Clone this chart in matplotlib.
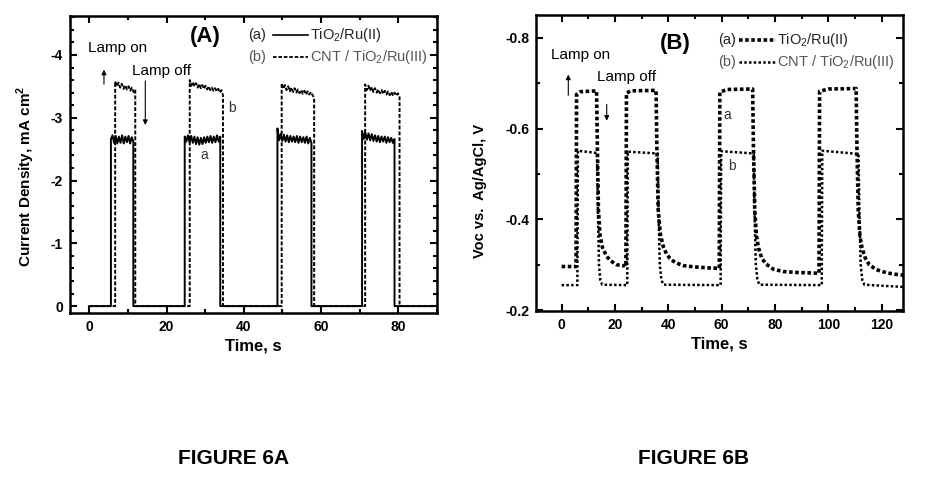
import numpy as np
import matplotlib
matplotlib.use("Agg")
import matplotlib.pyplot as plt
from matplotlib.ticker import MultipleLocator

plt.rcParams['font.family'] = ['Liberation Sans', 'DejaVu Sans']
plt.rcParams['mathtext.fontset'] = 'custom'
plt.rcParams['mathtext.rm'] = 'Liberation Sans'
plt.rcParams['mathtext.bf'] = 'Liberation Sans:bold'
plt.rcParams['axes.unicode_minus'] = False

# ---- Figure 6A: photocurrent, mA cm-2 ----
# (a) TiO2/Ru(II): lamp on/off times and plateau readings
a_on = [5.6, 24.7, 48.7, 70.6]
a_off = [11.4, 33.9, 57.5, 79.0]
a_plateaus = [
    [-2.66, -2.72, -2.60, -2.71, -2.59, -2.70, -2.60, -2.72, -2.59, -2.70, -2.61, -2.71, -2.59, -2.69, -2.62],
    [-2.70, -2.62, -2.72, -2.61, -2.71, -2.60, -2.70, -2.58, -2.69, -2.57, -2.68, -2.58, -2.69, -2.60,
     -2.70, -2.61, -2.71, -2.60, -2.70, -2.61, -2.72, -2.62, -2.70],
    [-2.83, -2.64, -2.74, -2.63, -2.73, -2.62, -2.72, -2.61, -2.71, -2.62, -2.70, -2.61, -2.71, -2.60,
     -2.70, -2.61, -2.69, -2.60, -2.70, -2.59, -2.68, -2.60],
    [-2.79, -2.66, -2.77, -2.65, -2.75, -2.64, -2.74, -2.63, -2.72, -2.62, -2.71, -2.61, -2.70, -2.62,
     -2.70, -2.60, -2.69, -2.61, -2.68, -2.60, -2.66],
]
# (b) CNT / TiO2/Ru(III)
b_on = [6.7, 26.0, 49.8, 71.4]
b_off = [11.9, 34.6, 58.2, 80.3]
b_plateaus = [
    [-3.58, -3.50, -3.56, -3.48, -3.54, -3.46, -3.52, -3.45, -3.50, -3.43, -3.48, -3.41, -3.45],
    [-3.60, -3.51, -3.57, -3.50, -3.55, -3.48, -3.54, -3.47, -3.52, -3.46, -3.51, -3.45, -3.50, -3.44,
     -3.48, -3.43, -3.47, -3.42, -3.46, -3.40, -3.44, -3.36],
    [-3.55, -3.46, -3.52, -3.44, -3.50, -3.42, -3.48, -3.41, -3.47, -3.40, -3.45, -3.39, -3.44, -3.38,
     -3.43, -3.37, -3.42, -3.37, -3.41, -3.36, -3.32],
    [-3.53, -3.44, -3.51, -3.43, -3.49, -3.41, -3.47, -3.40, -3.45, -3.39, -3.44, -3.38, -3.43, -3.37,
     -3.42, -3.36, -3.41, -3.35, -3.40, -3.35, -3.39, -3.33],
]
t_end_A = 89.0

# ---- Figure 6B: Voc vs Ag/AgCl, V ----
t_Ba = [0, 5.4, 5.6, 7.0, 13.1, 13.4, 13.8, 14.4, 15.3, 16.9, 18.5, 20.6, 24.0, 24.1, 24.3,
        26.0, 35.4, 35.7, 36.2, 37.0, 38.1, 39.3, 40.6, 42.5, 45.6, 50.0, 55.0, 59.0, 59.1, 59.3,
        62.0, 71.6, 71.9, 72.4, 73.0, 73.8, 75.0, 76.5, 79.4, 83.0, 88.0, 93.0, 96.4, 96.5, 96.7,
        100.0, 110.4, 110.7, 111.2, 111.8, 112.6, 113.8, 115.3, 118.0, 122.0, 125.0, 128.0]
v_Ba = [-0.296, -0.296, -0.675, -0.681, -0.683, -0.560, -0.420, -0.365, -0.338, -0.318, -0.308, -0.300,
        -0.297, -0.296, -0.678, -0.683, -0.684, -0.560, -0.420, -0.368, -0.340, -0.324, -0.314, -0.305,
        -0.298, -0.295, -0.293, -0.292, -0.292, -0.680, -0.686, -0.687, -0.560, -0.420, -0.365, -0.337,
        -0.315, -0.302, -0.290, -0.285, -0.283, -0.282, -0.281, -0.281, -0.682, -0.687, -0.688, -0.560,
        -0.420, -0.365, -0.337, -0.315, -0.300, -0.289, -0.282, -0.279, -0.277]
t_Bb = [0, 5.9, 6.1, 13.3, 13.6, 14.0, 14.5, 15.2, 24.6, 24.8, 36.0, 36.3, 36.8, 37.4, 38.2,
        59.6, 59.8, 72.0, 72.3, 72.8, 73.4, 74.2, 97.5, 97.7, 111.3, 111.6, 112.1, 112.7, 113.5, 128.0]
v_Bb = [-0.255, -0.255, -0.551, -0.546, -0.420, -0.300, -0.266, -0.256, -0.255, -0.549, -0.545, -0.420,
        -0.300, -0.266, -0.256, -0.255, -0.550, -0.545, -0.420, -0.300, -0.266, -0.256, -0.255, -0.551,
        -0.544, -0.420, -0.300, -0.266, -0.256, -0.251]


def square_trace(on, off, plateaus, t_end):
    t, v = [0.0], [0.0]
    for t0, t1, vals in zip(on, off, plateaus):
        t += [t0] + list(np.linspace(t0, t1, len(vals))) + [t1]
        v += [0.0] + vals + [0.0]
    t.append(t_end)
    v.append(0.0)
    return np.array(t), np.array(v)


fig = plt.figure(figsize=(9.34, 4.84), dpi=100)
axA = fig.add_axes([0.0749, 0.3533, 0.393, 0.6136])
axB = fig.add_axes([0.5739, 0.3574, 0.393, 0.6116])

lw_a = 1.4
ls_b = (0, (2.0, 1.0))

tA, vA = square_trace(a_on, a_off, a_plateaus, t_end_A)
tB, vB = square_trace(b_on, b_off, b_plateaus, t_end_A)
axA.plot(tA, vA, color='black', lw=lw_a)
axA.plot(tB, vB, color='black', lw=1.4, linestyle=ls_b)

axB.plot(t_Ba, v_Ba, color='black', lw=2.6, linestyle=(0, (1.0, 0.7)))
axB.plot(t_Bb, v_Bb, color='black', lw=1.8, linestyle=(0, (1.0, 0.9)))

axA.set_xlim(-5, 90)
axA.set_ylim(0.11, -4.62)
axA.xaxis.set_major_locator(MultipleLocator(20))
axA.xaxis.set_minor_locator(MultipleLocator(10))
axA.yaxis.set_major_locator(MultipleLocator(1))
axA.yaxis.set_minor_locator(MultipleLocator(0.2))

axB.set_xlim(-9.6, 128)
axB.set_ylim(-0.198, -0.85)
axB.xaxis.set_major_locator(MultipleLocator(20))
axB.xaxis.set_minor_locator(MultipleLocator(10))
axB.yaxis.set_major_locator(MultipleLocator(0.2))
axB.yaxis.set_minor_locator(MultipleLocator(0.1))
axB.yaxis.set_major_formatter(matplotlib.ticker.FormatStrFormatter('%.1f'))

for ax in (axA, axB):
    for s in ax.spines.values():
        s.set_linewidth(1.8)
    ax.tick_params(which='both', direction='in', top=True, right=True, width=1.5)
    ax.tick_params(which='major', length=5, labelsize=10, pad=5)
    ax.tick_params(which='minor', length=3)
    for lab in ax.get_xticklabels() + ax.get_yticklabels():
        lab.set_fontweight('bold')
    ax.set_xlabel('Time, s', fontsize=12, fontweight='bold', labelpad=3)

axA.set_ylabel(r'Current Density, mA cm$^{\mathbf{2}}$', fontsize=11, fontweight='bold')
axA.yaxis.set_label_coords(-0.09, 0.461)
axB.set_ylabel('Voc vs.  Ag/AgCl, V', fontsize=10.5, fontweight='bold')
axB.yaxis.set_label_coords(-0.134, 0.405)

# panel texts
axA.text(30, -4.29, '(A)', fontsize=16, fontweight='bold', ha='center', va='center')
axA.text(7.2, -4.11, 'Lamp on', fontsize=11, ha='center', va='center')
axA.text(18.6, -3.75, 'Lamp off', fontsize=11, ha='center', va='center')
axA.annotate('', xy=(3.8, -3.81), xytext=(3.8, -3.49),
             arrowprops=dict(arrowstyle='-|>', lw=0.8, color='black', mutation_scale=7))
axA.annotate('', xy=(14.5, -2.84), xytext=(14.5, -3.63),
             arrowprops=dict(arrowstyle='-|>', lw=0.8, color='black', mutation_scale=7))
axA.text(37, -3.16, 'b', fontsize=10, ha='center', va='center', color='#333333')
axA.text(29.8, -2.41, 'a', fontsize=10, ha='center', va='center', color='#333333')

axB.text(42.6, -0.788, '(B)', fontsize=16, fontweight='bold', ha='center', va='center')
axB.text(7.1, -0.762, 'Lamp on', fontsize=11, ha='center', va='center')
axB.text(24.4, -0.713, 'Lamp off', fontsize=11, ha='center', va='center')
axB.annotate('', xy=(2.5, -0.725), xytext=(2.5, -0.667),
             arrowprops=dict(arrowstyle='-|>', lw=0.8, color='black', mutation_scale=7))
axB.annotate('', xy=(16.9, -0.611), xytext=(16.9, -0.659),
             arrowprops=dict(arrowstyle='-|>', lw=0.8, color='black', mutation_scale=7))
axB.text(61.9, -0.63, 'a', fontsize=10, ha='center', va='center', color='#333333')
axB.text(63.7, -0.518, 'b', fontsize=10, ha='center', va='center', color='#333333')

# legends drawn as "(a) ---- label"
leg_rows = [('(a)', r'TiO$_2$/Ru(II)', '#222222'), ('(b)', r'CNT / TiO$_2$/Ru(III)', '#555555')]
legA = dict(x0=0.485, l0=0.553, l1=0.649, xt=0.654, ys=[0.936, 0.862],
            styles=[dict(lw=1.2, linestyle='-'), dict(lw=1.3, linestyle=ls_b)])
legB = dict(x0=0.496, l0=0.553, l1=0.654, xt=0.657, ys=[0.916, 0.842],
            styles=[dict(lw=2.6, linestyle=(0, (1.0, 0.7))), dict(lw=1.8, linestyle=(0, (1.0, 0.9)))])
for ax, lg in ((axA, legA), (axB, legB)):
    for (tag, label, col), y, st in zip(leg_rows, lg['ys'], lg['styles']):
        ax.text(lg['x0'], y, tag, transform=ax.transAxes, fontsize=10.5, va='center', color=col)
        ax.plot([lg['l0'], lg['l1']], [y, y], transform=ax.transAxes, color='black', **st)
        ax.text(lg['xt'], y, label, transform=ax.transAxes, fontsize=10.5, va='center', color=col)

fig.text(0.2505, 0.0517, 'FIGURE 6A', ha='center', va='center', fontsize=15, fontweight='bold')
fig.text(0.7425, 0.0517, 'FIGURE 6B', ha='center', va='center', fontsize=15, fontweight='bold')

fig.savefig('out.png', dpi=100)
